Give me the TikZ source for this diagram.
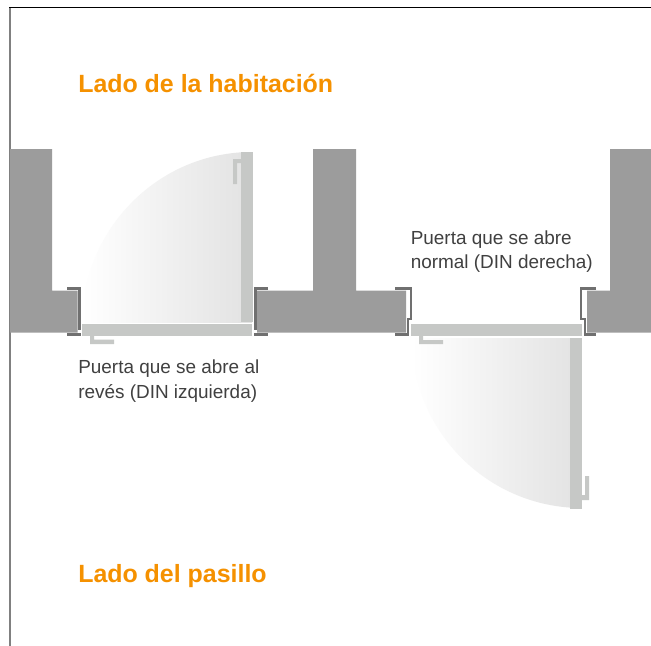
\documentclass[tikz,border=0pt]{standalone}
\usepackage{fontspec}
\setmainfont{Liberation Sans}
\definecolor{wallc}{HTML}{9C9C9C}
\definecolor{framec}{HTML}{707070}
\definecolor{leafc}{HTML}{C6C8C6}
\definecolor{orangec}{HTML}{F59100}
\definecolor{textc}{HTML}{404040}
\definecolor{swingc}{HTML}{E2E2E2}
\tikzset{
  wall/.style={fill=wallc,draw=none},
  leaf/.style={fill=leafc,draw=none},
  fr/.style={draw=framec,line width=2.2pt,line cap=butt,line join=miter},
  frthin/.style={draw=framec,line width=1.8pt,line cap=butt,line join=miter},
  title/.style={font=\fontsize{18.7pt}{20pt}\selectfont\bfseries,text=orangec,anchor=base west,inner sep=0pt},
  body/.style={font=\fontsize{14.2pt}{18pt}\selectfont,text=textc,anchor=base west,inner sep=0pt,align=left}
}
\begin{document}
\begin{tikzpicture}[x=0.75pt,y=-0.75pt]
\useasboundingbox (0,0) rectangle (651,646);
\fill[white] (0,0) rectangle (651,646);
% page lines
\fill[gray] (9,7.2) rectangle (11,646);
\fill[black] (9,7) rectangle (651,8);
% swings
\begin{scope}
\clip (252,324) -- (82,324) arc[start angle=180,end angle=90,x radius=170*0.75pt,y radius=172*0.75pt] -- cycle;
\shade[left color=white,right color=swingc] (82,150) rectangle (252,324);
\end{scope}
\begin{scope}
\clip (582,338) -- (412,338) arc[start angle=180,end angle=270,radius=170*0.75pt] -- cycle;
\shade[left color=white,right color=swingc] (412,338) rectangle (582,510);
\end{scope}
% walls
\fill[wall] (10,149) -- (52,149) -- (52,290.5) -- (77.5,290.5) -- (77.5,332.5) -- (10,332.5) -- cycle;
\fill[wall] (257,290.5) -- (313,290.5) -- (313,149) -- (356,149) -- (356,290.5) -- (406,290.5) -- (406,332.5) -- (257,332.5) -- cycle;
\fill[wall] (587,290.5) -- (610,290.5) -- (610,149) -- (651,149) -- (651,332.5) -- (587,332.5) -- cycle;
% frames
\draw[fr] (67,288.8) -- (79.2,288.8) -- (79.2,329) -- (82,329) -- (82,334.3) -- (67,334.3);
\draw[fr] (268,288.8) -- (255.8,288.8) -- (255.8,329) -- (253,329) -- (253,334.3) -- (268,334.3);
\draw[frthin] (395,288.3) -- (411,288.3) -- (411,319) -- (408,319) -- (408,334.3) -- (395,334.3);
\draw[frthin] (596,288.3) -- (581,288.3) -- (581,319) -- (585,319) -- (585,334.3) -- (596,334.3);
% closed leaves
\fill[white] (80.5,322.5) rectangle (253.5,337);
\fill[leaf] (82,324) rectangle (252,335.7);
\fill[leaf] (411,324) rectangle (582,336);
% open leaves
\fill[leaf] (241,152) rectangle (252.5,322);
\fill[leaf] (570,338) rectangle (582,509);
% handles
\fill[leaf] (90,336) -- (94,336) -- (94,339.5) -- (114,339.5) -- (114,344) -- (90,344) -- cycle;
\fill[leaf] (419,336) -- (423,336) -- (423,340) -- (443,340) -- (443,344) -- (419,344) -- cycle;
\fill[leaf] (241,159) -- (233,159) -- (233,184) -- (237,184) -- (237,163) -- (241,163) -- cycle;
\fill[leaf] (582,495) -- (585,495) -- (585,476) -- (589,476) -- (589,500) -- (582,500) -- cycle;
% text
\node[title] (room) at (78,92) {Lado de la habitación};
\node[title] (hall) at (78,582) {Lado del pasillo};
\node[body] (t1a) at (410.5,244.5) {Puerta que se abre};
\node[body] (t1b) at (410.5,268.5) {normal (DIN derecha)};
\node[body] (t2a) at (78,373.5) {Puerta que se abre al};
\node[body] (t2b) at (78,398) {revés (DIN izquierda)};
\end{tikzpicture}
\end{document}
